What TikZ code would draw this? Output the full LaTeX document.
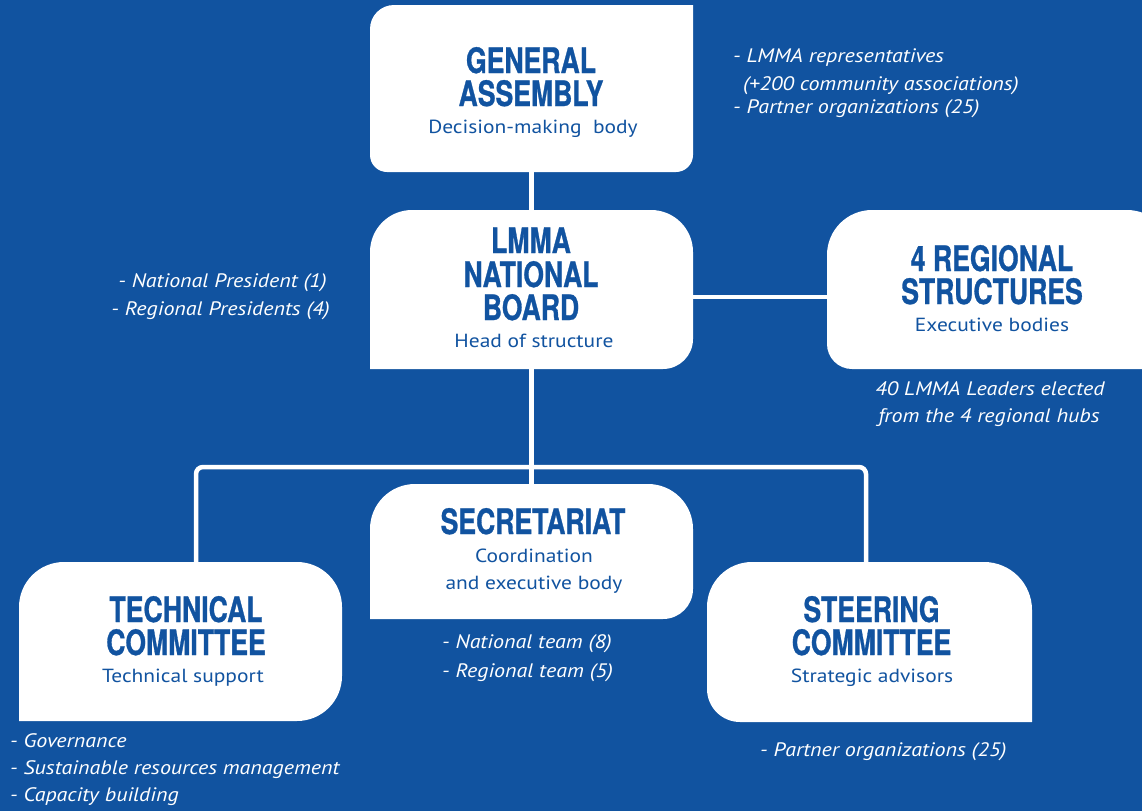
\documentclass[tikz,border=0pt]{standalone}
\usepackage{fontspec}
\setmainfont{PT Sans}[FakeStretch=1.13]
\newfontfamily\titlefont{TeX Gyre Heros}[FakeStretch=0.76,FakeBold=0.8]
\definecolor{bg}{RGB}{17,83,160}
\tikzset{
  ttl/.style={font=\titlefont\bfseries\fontsize{35}{33}\selectfont, text=bg, inner sep=0pt, anchor=base},
  sub/.style={font=\fontsize{19}{19}\selectfont, text=bg, inner sep=0pt, anchor=base},
  note/.style={font=\itshape\fontsize{19.5}{19.5}\selectfont, text=white, inner sep=0pt},
  link/.style={draw=white, line width=4.5pt},
  boxref/.style={inner sep=0pt, draw=none}
}
% name, x1, y1, x2, y2 (y downward), radii tl tr br bl
\newcommand\orgbox[9]{%
  \fill[white] (#2,{-(#3)-(#6)}) arc[start angle=180,end angle=90,radius=#6]
    -- ({#4-#7},-#3) arc[start angle=90,end angle=0,radius=#7]
    -- (#4,{-(#5)+#8}) arc[start angle=0,end angle=-90,radius=#8]
    -- ({#2+#9},-#5) arc[start angle=270,end angle=180,radius=#9] -- cycle;
  \node[boxref, minimum width={#4-#2}, minimum height={#5-#3}] (#1) at ({(#2+#4)/2},{-(#3+#5)/2}) {};%
}
\begin{document}
\begin{tikzpicture}[x=1pt,y=1pt]
\clip (0,0) rectangle (1142,-811);
\fill[bg] (0,0) rectangle (1142,-811);

% boxes
\orgbox{ga}{370}{5}{693}{172}{24}{0.1}{17}{17}
\orgbox{board}{370}{210}{693}{369}{42}{42}{30}{0.1}
\orgbox{regional}{827}{210}{1172}{369}{45}{45}{0.1}{25}
\orgbox{sec}{370}{484}{693}{619}{45}{45}{30}{0.1}
\orgbox{tech}{19}{562}{342}{721}{45}{45}{45}{0.1}
\orgbox{steer}{707}{562}{1032}{722}{45}{48}{0.1}{33}

% connectors
\coordinate (bk) at (531.5,-467);
\draw[link] (ga.south) -- (board.north);
\draw[link] ([yshift=-7.5pt]board.east) -- ([yshift=-7.5pt]regional.west);
\draw[link] (board.south) -- (sec.north);
\draw[link, rounded corners=7pt] ([xshift=15.5pt]tech.north) |- (bk) -| ([xshift=-3.5pt]steer.north);

% titles
\node[ttl] (gat1) at (531,-73) {GENERAL};
\node[ttl] (gat2) at (531,-106) {ASSEMBLY};
\node[sub] (gas) at (533,-133) {Decision-making\ \ body};

\node[ttl] (bt1) at (531,-253) {LMMA};
\node[ttl] (bt2) at (531,-287) {NATIONAL};
\node[ttl] (bt3) at (531,-320) {BOARD};
\node[sub] (bs) at (534,-347) {Head of structure};

\node[ttl] (rt1) at (992,-271) {4 REGIONAL};
\node[ttl] (rt2) at (992,-304) {STRUCTURES};
\node[sub] (rs) at (992,-331) {Executive bodies};

\node[ttl] (st1) at (533,-534) {SECRETARIAT};
\node[sub] (ss1) at (534,-562) {Coordination};
\node[sub] (ss2) at (534,-589) {and executive body};

\node[ttl] (tt1) at (186,-622) {TECHNICAL};
\node[ttl] (tt2) at (186,-655) {COMMITTEE};
\node[sub] (ts) at (183,-682) {Technical support};

\node[ttl] (ct1) at (871.5,-622) {STEERING};
\node[ttl] (ct2) at (871.5,-655) {COMMITTEE};
\node[sub] (cs) at (872,-682) {Strategic advisors};

% notes
\node[note, anchor=base west] (gn1) at (733,-62) {- LMMA representatives};
\node[note, anchor=base west] (gn2) at (743,-90) {(+200 community associations)};
\node[note, anchor=base west] (gn3) at (733,-113) {- Partner organizations (25)};

\node[note, anchor=base east] (bn1) at (327,-287) {- National President (1)};
\node[note, anchor=base east] (bn2) at (330,-315) {- Regional Presidents (4)};

\node[note, anchor=base] (rn1) at (990,-395) {40 LMMA Leaders elected};
\node[note, anchor=base] (rn2) at (989,-422) {from the 4 regional hubs};

\node[note, anchor=base west] (sn1) at (442,-648) {- National team (8)};
\node[note, anchor=base west] (sn2) at (442,-677) {- Regional team (5)};

\node[note, anchor=base west] (tn1) at (10,-747) {- Governance};
\node[note, anchor=base west] (tn2) at (10,-774) {- Sustainable resources management};
\node[note, anchor=base west] (tn3) at (10,-801) {- Capacity building};

\node[note, anchor=base west] (cn1) at (760,-756) {- Partner organizations (25)};
\end{tikzpicture}
\end{document}
